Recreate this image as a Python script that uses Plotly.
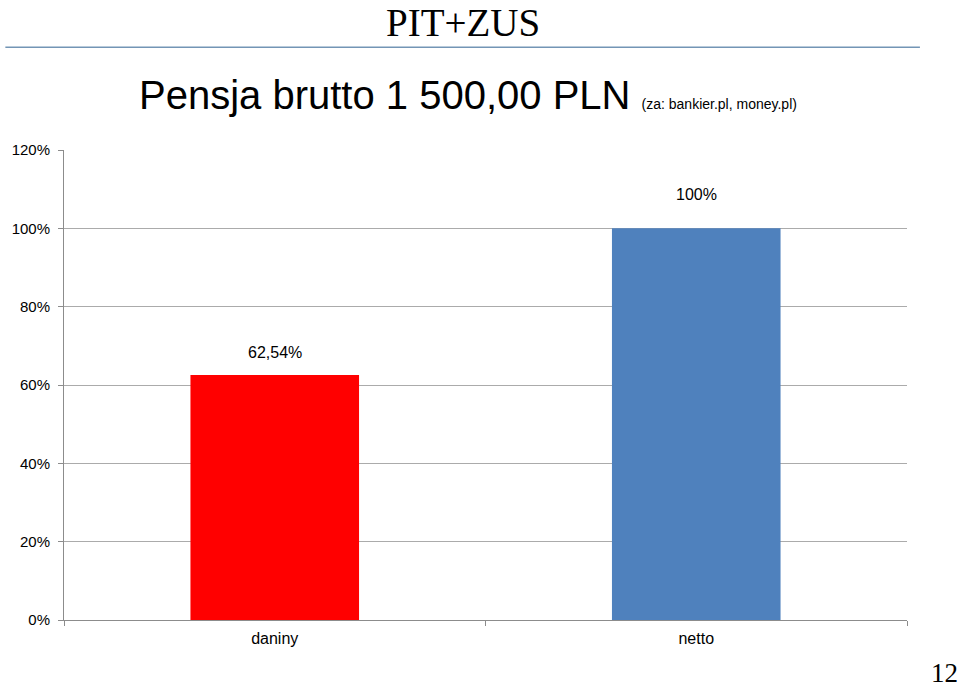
import plotly.graph_objects as go

# Dane wykresu
kategorie = ["daniny", "netto"]
wartosci = [62.54, 100]
etykiety = ["62,54%", "100%"]
kolory = ["#FF0000", "#4F81BD"]
tick_wartosci = [0, 20, 40, 60, 80, 100, 120]
tick_etykiety = ["0%", "20%", "40%", "60%", "80%", "100%", "120%"]

fig = go.Figure()
fig.add_trace(go.Bar(
    x=kategorie,
    y=wartosci,
    marker=dict(color=kolory, line=dict(width=0)),
    width=0.4,
    hoverinfo="skip",
))

# Etykiety danych nad słupkami (odstęp jak w oryginale)
przesuniecia = [23, 34]
for kat, wart, tekst, dy in zip(kategorie, wartosci, etykiety, przesuniecia):
    fig.add_annotation(
        x=kat, y=wart, text=tekst, showarrow=False, yanchor="middle",
        yshift=dy, font=dict(family="Liberation Sans", size=16, color="black"),
    )

# Nagłówek slajdu
fig.add_annotation(xref="paper", yref="paper", x=(460 - 59) / 848, y=1 + 150/471,
                   xanchor="center", yanchor="top", borderpad=0,
                   text="PIT+ZUS", showarrow=False,
                   font=dict(family="Liberation Serif", size=39, color="black"))
fig.add_shape(type="line", xref="paper", yref="paper", x0=-59/848, x1=861/848,
              y0=1 + 103/471, y1=1 + 103/471, line=dict(color="#7395B5", width=1.5))

# Tytuł wykresu
fig.add_annotation(xref="paper", yref="paper", x=(132 - 59) / 848, y=1 + 55/471,
                   xanchor="left", yanchor="middle", showarrow=False,
                   text="Pensja brutto 1 500,00 PLN <span style='font-size:14px'>(za: bankier.pl, money.pl)</span>",
                   font=dict(family="Liberation Sans", size=40, color="black"))

# Numer slajdu
fig.add_annotation(xref="paper", yref="paper", x=(959 - 59) / 848, y=-69/471,
                   xanchor="right", yanchor="bottom", borderpad=0, showarrow=False, text="12",
                   font=dict(family="Liberation Serif", size=27, color="black"))

fig.update_layout(
    width=960, height=689,
    margin=dict(l=59, r=53, t=150, b=69),
    paper_bgcolor="white", plot_bgcolor="white",
    showlegend=False,
    bargap=0.6,
    font=dict(family="Liberation Sans", size=15, color="black"),
)
fig.update_yaxes(
    range=[0, 120], tickvals=tick_wartosci, ticktext=tick_etykiety,
    showgrid=True, gridcolor="#ABABAB", gridwidth=1, zeroline=False,
    showline=True, linecolor="#8C8C8C", linewidth=1,
    ticks="outside", ticklen=5, tickcolor="#8C8C8C", ticklabelstandoff=5,
    tickfont=dict(family="Liberation Sans", size=15, color="black"),
)
fig.update_xaxes(
    showgrid=False, zeroline=False,
    showline=True, linecolor="#8C8C8C", linewidth=1,
    ticks="outside", ticklen=5, tickcolor="#8C8C8C", tickson="boundaries",
    ticklabelstandoff=4,
    tickfont=dict(family="Liberation Sans", size=16, color="black"),
)

fig.write_html("out.html", config={"displayModeBar": False},
               post_script="document.body.style.margin='0';")
